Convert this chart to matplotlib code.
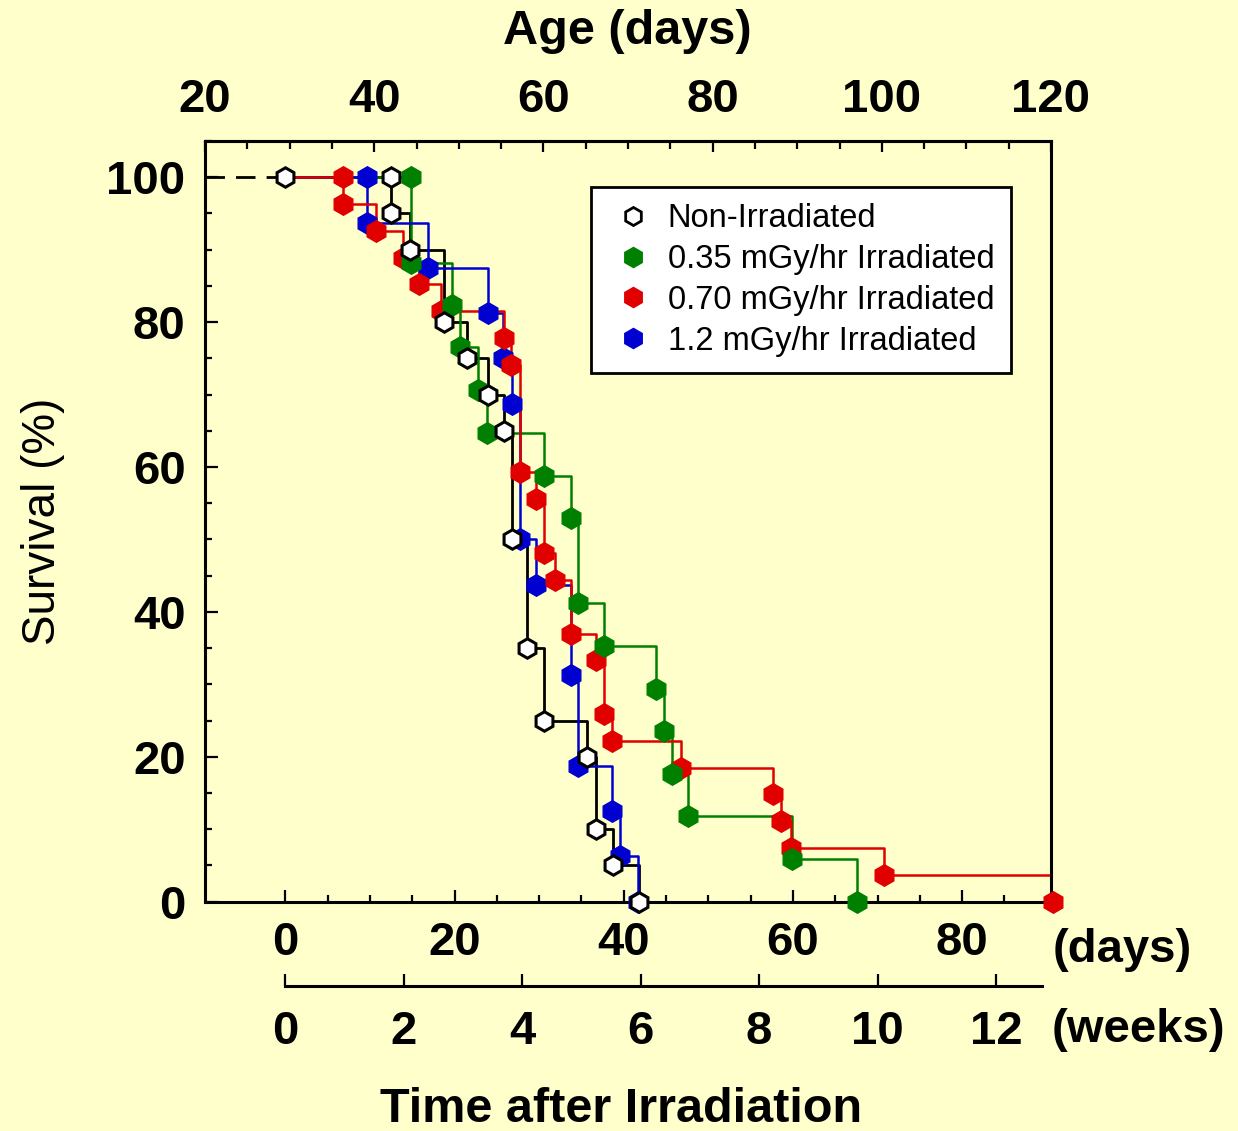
import matplotlib
matplotlib.use('Agg')
import matplotlib.pyplot as plt
from matplotlib.lines import Line2D
from matplotlib.ticker import MultipleLocator, FixedLocator

plt.rcParams['font.family'] = ['Liberation Sans', 'DejaVu Sans']

# ---------------- data (days after irradiation, survival %) ----------------
ctrl_days = [0, 12.5, 12.5, 14.7, 18.7, 21.5, 23.9, 25.8, 26.8, 28.6, 30.6, 35.7, 36.7, 38.7, 41.8]
ctrl_surv = [100, 100, 95, 90, 80, 75, 70, 65, 50, 35, 25, 20, 10, 5, 0]

g035_days = [0, 14.9, 14.9, 19.7, 20.6, 22.8, 23.8, 30.6, 33.8, 34.6, 37.7, 43.8, 44.8, 45.7, 47.6, 59.9, 67.6]
g035_surv = [100, 100, 88.2, 82.4, 76.5, 70.6, 64.7, 58.8, 52.9, 41.2, 35.3, 29.4, 23.5, 17.6, 11.8, 5.9, 0]

r070_days = [0, 6.8, 6.8, 10.7, 13.9, 15.8, 18.4, 25.8, 26.7, 27.7, 29.6, 30.6, 31.9, 33.8, 36.7, 37.7,
             38.6, 46.8, 57.6, 58.6, 59.8, 70.8, 90.7]
r070_surv = [100, 100, 96.3, 92.6, 88.9, 85.2, 81.5, 77.8, 74.1, 59.3, 55.6, 48.1, 44.4, 37.0, 33.3, 25.9,
             22.2, 18.5, 14.8, 11.1, 7.4, 3.7, 0]

b12_days = [0, 9.6, 9.6, 16.9, 23.9, 25.7, 26.8, 27.7, 29.6, 33.8, 34.6, 38.6, 39.6, 41.7]
b12_surv = [100, 100, 93.75, 87.5, 81.25, 75, 68.75, 50, 43.75, 31.25, 18.75, 12.5, 6.25, 0]

labels = ['Non-Irradiated', '0.35 mGy/hr Irradiated', '0.70 mGy/hr Irradiated', '1.2 mGy/hr Irradiated']

age_at_irradiation = 29.5
day_ticks = [0, 20, 40, 60, 80]
week_ticks = [0, 2, 4, 6, 8, 10, 12]
age_ticks = [20, 40, 60, 80, 100, 120]
y_ticks = [0, 20, 40, 60, 80, 100]

# ---------------- style ----------------
BG = '#FFFFCC'
GREEN = '#008000'
RED = '#E00000'
BLUE = '#0000D0'
BLACK = '#000000'
MS = 15.5
TICK_FS = 34
LW = 1.8

fig = plt.figure(figsize=(12.38, 11.31), dpi=100, facecolor=BG)
ax = fig.add_axes([205 / 1238, (1131 - 901.7) / 1131, 846 / 1238, (901.7 - 141) / 1131])
ax.set_facecolor(BG)
ax.set_xlim(-9.5, 90.5)
ax.set_ylim(0, 105)

# step lines: black bottom, green, blue, red top
ax.plot(ctrl_days, ctrl_surv, drawstyle='steps-post', color=BLACK, lw=2.0, zorder=2)
ax.plot(g035_days, g035_surv, drawstyle='steps-post', color=GREEN, lw=LW, zorder=2.1)
ax.plot(b12_days, b12_surv, drawstyle='steps-post', color=BLUE, lw=LW, zorder=2.2)
ax.plot(r070_days, r070_surv, drawstyle='steps-post', color=RED, lw=LW, zorder=2.3)
ax.plot([ax.get_xlim()[0], ctrl_days[0]], [ctrl_surv[0], ctrl_surv[0]], color=BLACK, lw=2.0,
        dashes=(7, 4), zorder=2)

# markers: blue, red, green, black on top
ax.plot(b12_days[1:], b12_surv[1:], ls='none', marker='h', ms=MS, mfc=BLUE, mec=BLUE, zorder=3, clip_on=False)
ax.plot(r070_days[1:], r070_surv[1:], ls='none', marker='h', ms=MS, mfc=RED, mec=RED, zorder=3.1, clip_on=False)
ax.plot(g035_days[1:], g035_surv[1:], ls='none', marker='h', ms=MS, mfc=GREEN, mec=GREEN, zorder=3.2, clip_on=False)
ax.plot(ctrl_days, ctrl_surv, ls='none', marker='h', ms=MS - 1.5, mfc='white', mec=BLACK, mew=2.2,
        zorder=3.3, clip_on=False)

# spines
for side in ['left', 'right', 'top', 'bottom']:
    ax.spines[side].set_linewidth(2.2)

# bottom (days) ticks
ax.xaxis.set_major_locator(FixedLocator(day_ticks))
ax.xaxis.set_minor_locator(FixedLocator([d for d in range(0, 91, 5) if d % 20 != 0]))
ax.tick_params(axis='x', which='major', direction='in', length=9, width=1.6, pad=14,
               labelsize=TICK_FS, top=False)
ax.tick_params(axis='x', which='minor', direction='in', length=5, width=1.6, top=False)
for t in ax.get_xticklabels():
    t.set_fontweight('bold')

# y ticks
ax.yaxis.set_major_locator(FixedLocator(y_ticks))
ax.yaxis.set_minor_locator(MultipleLocator(5))
ax.tick_params(axis='y', which='major', direction='in', length=9, width=1.6, pad=14,
               labelsize=TICK_FS, right=False)
ax.tick_params(axis='y', which='minor', direction='in', length=5, width=1.6, right=False)
for t in ax.get_yticklabels():
    t.set_fontweight('bold')
ax.set_ylabel('Survival (%)', fontsize=33, labelpad=30)

# top (age) axis
sec = ax.secondary_xaxis('top', functions=(lambda d: d + age_at_irradiation,
                                           lambda a: a - age_at_irradiation))
sec.xaxis.set_major_locator(FixedLocator(age_ticks))
sec.xaxis.set_minor_locator(FixedLocator([a for a in range(25, 120, 5) if a % 20 != 0]))
sec.tick_params(axis='x', which='major', direction='in', length=8, width=1.6, pad=14, labelsize=TICK_FS)
sec.tick_params(axis='x', which='minor', direction='in', length=6, width=1.6)
sec.spines['top'].set_linewidth(2.2)
for t in sec.get_xticklabels():
    t.set_fontweight('bold')

# weeks axis (separate line below)
wax = fig.add_axes([205 / 1238, 1 - 986 / 1131, 846 / 1238, 0.001])
wax.set_facecolor('none')
wax.set_xlim(ax.get_xlim()[0] / 7, ax.get_xlim()[1] / 7)
wax.set_ylim(0, 1)
for side in ['left', 'right', 'top']:
    wax.spines[side].set_visible(False)
wax.spines['bottom'].set_linewidth(2.2)
wax.spines['bottom'].set_bounds(0, 89.4 / 7)
wax.set_yticks([])
wax.xaxis.set_major_locator(FixedLocator(week_ticks))
wax.tick_params(axis='x', which='major', direction='in', length=9, width=1.6, pad=17, labelsize=TICK_FS)
for t in wax.get_xticklabels():
    t.set_fontweight('bold')

# unit labels and titles
fig.text(1053 / 1238, 1 - 950 / 1131, '(days)', fontsize=TICK_FS, fontweight='bold', ha='left', va='center')
fig.text(1052 / 1238, 1 - 1030 / 1131, '(weeks)', fontsize=TICK_FS, fontweight='bold', ha='left', va='center')
fig.text(621 / 1238, 1 - 1110 / 1131, 'Time after Irradiation', fontsize=35, fontweight='bold',
         ha='center', va='center')
fig.text(627 / 1238, 1 - 32 / 1131, 'Age (days)', fontsize=35, fontweight='bold', ha='center', va='center')

# legend
handles = [
    Line2D([], [], ls='none', marker='h', ms=MS - 2.5, mfc='white', mec=BLACK, mew=2.0),
    Line2D([], [], ls='none', marker='h', ms=MS - 1, mfc=GREEN, mec=GREEN),
    Line2D([], [], ls='none', marker='h', ms=MS - 1, mfc=RED, mec=RED),
    Line2D([], [], ls='none', marker='h', ms=MS - 1, mfc=BLUE, mec=BLUE),
]
leg = ax.legend(handles, labels, loc='upper left', bbox_to_anchor=((591 - 205) / 846, (901.7 - 187) / 760.7),
                fontsize=23.5, frameon=True, fancybox=False, framealpha=1, edgecolor='black',
                borderpad=0.5, labelspacing=0.3, handletextpad=0.3, handlelength=1.55, borderaxespad=0)
leg.get_frame().set_linewidth(2.0)
leg.set_zorder(5)

fig.savefig('out.png', dpi=100, facecolor=BG)
